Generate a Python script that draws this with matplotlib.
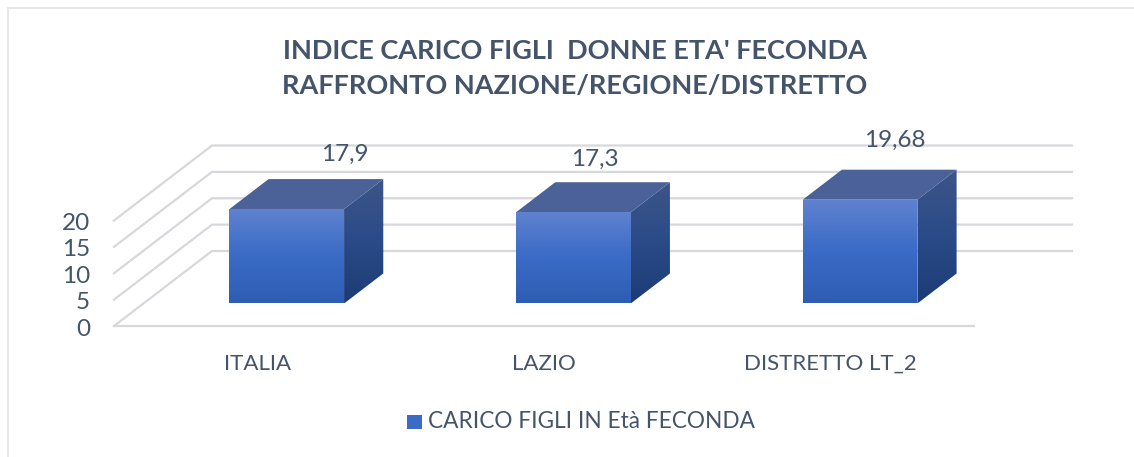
import numpy as np
import matplotlib
matplotlib.use("Agg")
import matplotlib.pyplot as plt
from matplotlib.colors import LinearSegmentedColormap
from matplotlib.lines import Line2D
from matplotlib.patches import Polygon, Rectangle

categories = ["ITALIA", "LAZIO", "DISTRETTO LT_2"]
values = [17.9, 17.3, 19.68]
value_labels = ["17,9", "17,3", "19,68"]
yticks = [0, 5, 10, 15, 20]
title = "INDICE CARICO FIGLI  DONNE ETA' FECONDA\nRAFFRONTO NAZIONE/REGIONE/DISTRETTO"
legend_label = "CARICO FIGLI IN Età FECONDA"

# hand placement of the value labels, in pixels from the top-back of each bar
label_shift_x = [19, -18, -4]
label_shift_y = [6, 4, 11]

W, H = 1134, 457
TXT = "#44546A"
GRID = "#D6D8DB"
plt.rcParams["font.family"] = ["Lato", "DejaVu Sans"]

fig = plt.figure(figsize=(W / 100, H / 100), dpi=100, facecolor="white")
L, R, B, T = 114, 974, 326, 220.5
ax = fig.add_axes([L / W, 1 - B / H, (R - L) / W, (B - T) / H])
ax.set_xlim(0, 3)
ax.set_ylim(0, 20)
ax.patch.set_alpha(0)
for s in ax.spines.values():
    s.set_visible(False)

# oblique depth: full depth in data units
DX = 98 / ((R - L) / 3)
DY = 75 / ((B - T) / 20)
BW = 0.40
D0, D1 = 0.30, 0.70
PT = 0.72  # points per pixel at this dpi


def P(x, y, d):
    return (x + DX * d, y + DY * d)


# walls / floor gridlines
for v in yticks:
    a = P(0, v, 0)
    b = P(0, v, 1)
    c = P(3, v, 1)
    ax.plot([a[0], b[0], c[0]], [a[1], b[1], c[1]], color=GRID, lw=1.6,
            solid_joinstyle="miter", clip_on=False, zorder=1)
a, b = P(0, 0, 0), P(3, 0, 0)
ax.plot([a[0], b[0]], [a[1], b[1]], color=GRID, lw=1.6, clip_on=False, zorder=1)

front_cm = LinearSegmentedColormap.from_list("f", ["#5F82CF", "#3A6BC6", "#2E5DB3"])
side_cm = LinearSegmentedColormap.from_list("s", ["#3D5588", "#2A4B88", "#1D3B76"])


def grad(poly_pts, cmap, zorder):
    pts = np.array(poly_pts)
    poly = Polygon(pts, closed=True, fc="none", ec="none", zorder=zorder, clip_on=False)
    ax.add_patch(poly)
    g = np.linspace(0, 1, 64)[:, None]
    im = ax.imshow(g, cmap=cmap, vmin=0, vmax=1, origin="upper", aspect="auto",
                   extent=[pts[:, 0].min(), pts[:, 0].max(), pts[:, 1].min(), pts[:, 1].max()],
                   zorder=zorder, interpolation="bilinear")
    im.set_clip_box(fig.bbox)
    im.set_clip_path(poly)


for i, (v, lab) in enumerate(zip(values, value_labels)):
    x0 = i + 0.5 - BW / 2
    x1 = i + 0.5 + BW / 2
    grad([P(x0, 0, D0), P(x1, 0, D0), P(x1, v, D0), P(x0, v, D0)], front_cm, 4)
    grad([P(x1, 0, D0), P(x1, 0, D1), P(x1, v, D1), P(x1, v, D0)], side_cm, 3)
    ax.add_patch(Polygon([P(x0, v, D0), P(x1, v, D0), P(x1, v, D1), P(x0, v, D1)],
                         closed=True, fc="#4A6298", ec="none", zorder=3, clip_on=False))
    lx, ly = P(i + 0.5, v, D1)
    ax.annotate(lab, (lx, ly), xytext=(label_shift_x[i] * PT, (6 + label_shift_y[i]) * PT + 1.6),
                textcoords="offset points", ha="center",
                va="bottom", fontsize=17.5, color=TXT, zorder=6, annotation_clip=False)
    ax.annotate(categories[i], (i + 0.5, 0), xytext=(0, -27), textcoords="offset points",
                ha="center", va="center", fontsize=16, color=TXT, annotation_clip=False)

ax.set_xlim(0, 3)
ax.set_ylim(0, 20)
ax.set_xticks([])
ax.set_yticks(yticks)
ax.set_yticklabels([])
ax.tick_params(axis="y", length=0)
for t in yticks:
    ax.annotate(str(t), (0, t), xytext=(-24 * PT, -9.5 * PT), textcoords="offset points",
                ha="right", va="baseline", fontsize=17.5, color=TXT, annotation_clip=False)

fig.text(575 / W, 1 - 68.5 / H, title, ha="center", va="center", fontsize=19.5,
         fontweight="bold", color=TXT, linespacing=1.56)

# frame
frame = "#E6E8EC"
fig.add_artist(Line2D([7.5 / W, 7.5 / W], [0, 1 - 7.5 / H], color=frame, lw=1.5))
fig.add_artist(Line2D([7.5 / W, 1], [1 - 7.5 / H, 1 - 7.5 / H], color=frame, lw=1.5))

# legend
fig.patches.append(Rectangle((407 / W, 1 - 429 / H), 15 / W, 14 / H, transform=fig.transFigure,
                             fc="#3A6BC6", ec="none"))
fig.text(428 / W, 1 - 421 / H, legend_label, ha="left", va="center", fontsize=16.3, color=TXT)

fig.savefig("out.png", dpi=100)
